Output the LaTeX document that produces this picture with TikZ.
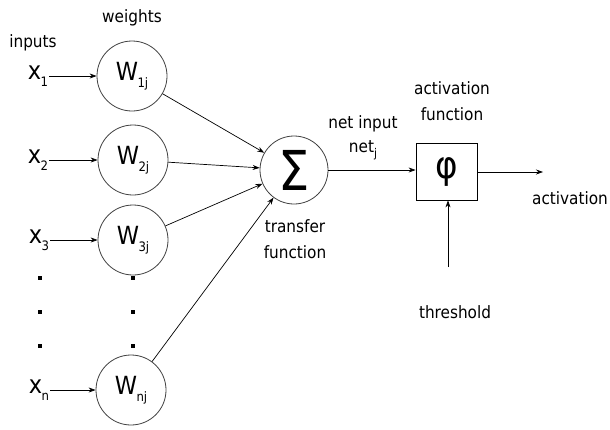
\documentclass[tikz,border=0pt]{standalone}
\usepackage{fontspec}
\setmainfont{DejaVu Sans Condensed}
\usetikzlibrary{arrows.meta}
\newcommand\lbsub[1]{\kern-0.5pt\raisebox{-0.28em}{\fontsize{13}{13}\selectfont #1}}
\newcommand\smsub[1]{\kern-0.5pt\raisebox{-0.3em}{\fontsize{13}{13}\selectfont #1}}
\newcommand\nsub[1]{\raisebox{-0.3em}{\fontsize{12}{12}\selectfont #1}}
\tikzset{
  wnode/.style={circle, draw=black!75, line width=0.8pt, minimum size=70pt, inner sep=0pt, font=\fontsize{25}{25}\selectfont},
  xin/.style={inner sep=1pt, font=\fontsize{25}{25}\selectfont},
  lbl/.style={inner sep=0pt, font=\fontsize{17}{26}\selectfont, align=center},
  arr/.style={-{Stealth[length=7pt,width=5pt]}, line width=0.7pt},
  dotsq/.style={fill=black, minimum size=4pt, inner sep=0pt, rectangle}
}
\begin{document}
\begin{tikzpicture}[x=1pt,y=-1pt]
\useasboundingbox (0,0) rectangle (610,429);
% labels
\node[lbl] (inputs) at (33,43) {inputs};
\node[lbl] (weights) at (132,18) {weights};
% weight nodes
\node[wnode] (w1) at (132,76) {W\lbsub{1j}};
\node[wnode] (w2) at (133,160) {W\lbsub{2j}};
\node[wnode] (w3) at (133,240) {W\lbsub{3j}};
\node[wnode] (wn) at (131,390) {W\lbsub{nj}};
% inputs
\node[xin] (x1) at (38,76) {x\smsub{1}};
\node[xin] (x2) at (38,160) {x\smsub{2}};
\node[xin] (x3) at (39,240) {x\smsub{3}};
\node[xin] (xn) at (39,390) {x\smsub{n}};
\draw[arr] (x1.east |- w1.west) -- (w1.west);
\draw[arr] (x2.east |- w2.west) -- (w2.west);
\draw[arr] (x3.east |- w3.west) -- (w3.west);
\draw[arr] (xn.east |- wn.west) -- (wn.west);
% dots
\node[dotsq] (d1) at (40,278) {};
\node[dotsq] (d2) at (40,312) {};
\node[dotsq] (d3) at (40,346) {};
\node[dotsq] (d4) at (133,278) {};
\node[dotsq] (d5) at (133,312) {};
\node[dotsq] (d6) at (133,346) {};
% summation
\node[circle, draw=black!75, line width=0.8pt, minimum size=68pt, inner sep=0pt, font=\fontsize{55}{55}\selectfont] (sig) at (294,170) {Σ};
\draw[arr] (w1) -- (sig);
\draw[arr] (w2) -- (sig);
\draw[arr] (w3) -- (sig);
\draw[arr] (wn) -- (sig);
\node[lbl] (tf) at (295,239) {transfer\\function};
% activation box
\node[rectangle, draw=black, line width=0.8pt, minimum width=61pt, minimum height=57pt, inner sep=0pt, font=\fontsize{38}{38}\selectfont] (phi) at (446.5,171.5) {φ};
\draw[arr] (sig.east) -- (phi.west |- sig.east);
\node[lbl] (ni) at (363,124) {net input};
\node[lbl] (netj) at (363,150) {net\nsub{j}};
\node[lbl] (af) at (452,101) {activation\\function};
% output
\coordinate (out) at (543,172);
\draw[arr] (phi.east |- out) -- (out);
\node[lbl] (act) at (570,198) {activation};
% threshold
\coordinate (th) at (448,267);
\draw[arr] (th) -- (phi.south -| th);
\node[lbl] (thr) at (455,312) {threshold};
\end{tikzpicture}
\end{document}
